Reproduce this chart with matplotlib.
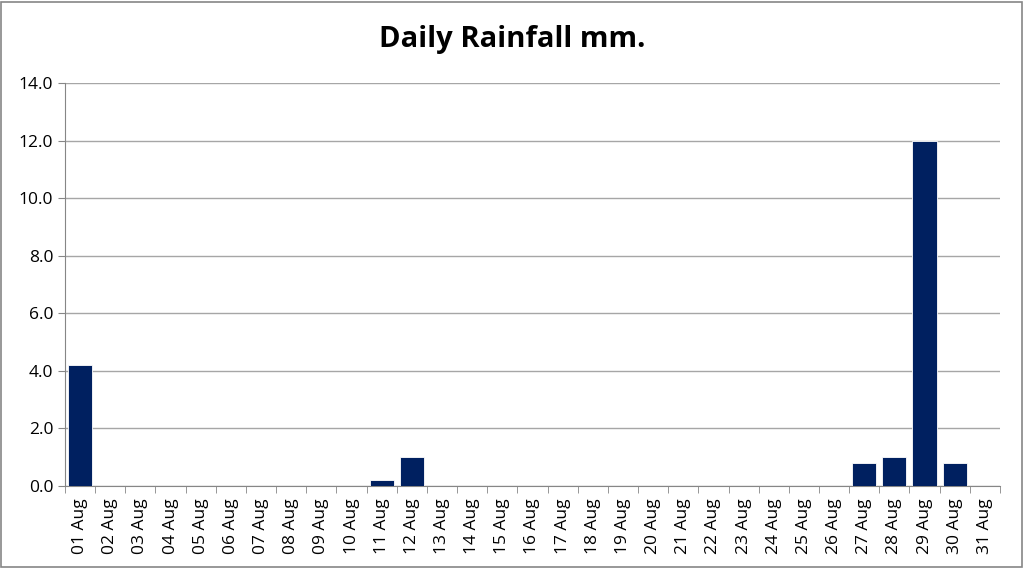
import matplotlib.pyplot as plt
import numpy as np
from matplotlib.patches import Rectangle

plt.rcParams["font.family"] = ["Open Sans", "DejaVu Sans"]

# 八月每日降雨量
days = ["%02d Aug" % d for d in range(1, 32)]
rain = [4.2, 0, 0, 0, 0, 0, 0, 0, 0, 0, 0.2, 1.0, 0, 0, 0, 0,
        0, 0, 0, 0, 0, 0, 0, 0, 0, 0, 0.8, 1.0, 12.0, 0.8, 0]
y_ticks = [0, 2, 4, 6, 8, 10, 12, 14]

fig = plt.figure(figsize=(10.24, 5.68), dpi=100)
ax = fig.add_axes([0.0635, 0.1444, 0.913, 0.7096])

x = np.arange(len(days))
ax.bar(x, rain, width=0.8, color="#002060", edgecolor="white", linewidth=0.6, zorder=3)

ax.set_xlim(-0.5, len(days) - 0.5)
ax.set_ylim(0, 14)
ax.set_yticks(y_ticks)
ax.set_yticklabels(["%.1f" % v for v in y_ticks], fontsize=12.5)
ax.set_xticks(x)
ax.set_xticklabels(days, rotation=90, fontsize=12.5)
ax.set_xticks(np.arange(-0.5, len(days)), minor=True)
ax.tick_params(axis="x", which="major", length=0, pad=9)
ax.tick_params(axis="x", which="minor", length=5, color="#868686")
ax.tick_params(axis="y", length=5, color="#868686")

ax.grid(axis="y", color="#a6a6a6", linewidth=1, zorder=0)
for s in ["top", "right"]:
    ax.spines[s].set_visible(False)
for s in ["left", "bottom"]:
    ax.spines[s].set_color("#868686")

fig.text(0.5, 0.93, "Daily Rainfall mm.", fontsize=21, fontweight="bold",
         ha="center", va="center")

# 外框
fig.patches.append(Rectangle((0.001, 0.002), 0.997, 0.995, transform=fig.transFigure,
                             fill=False, edgecolor="#868686", linewidth=1.2))

fig.savefig("out.png", dpi=100)
